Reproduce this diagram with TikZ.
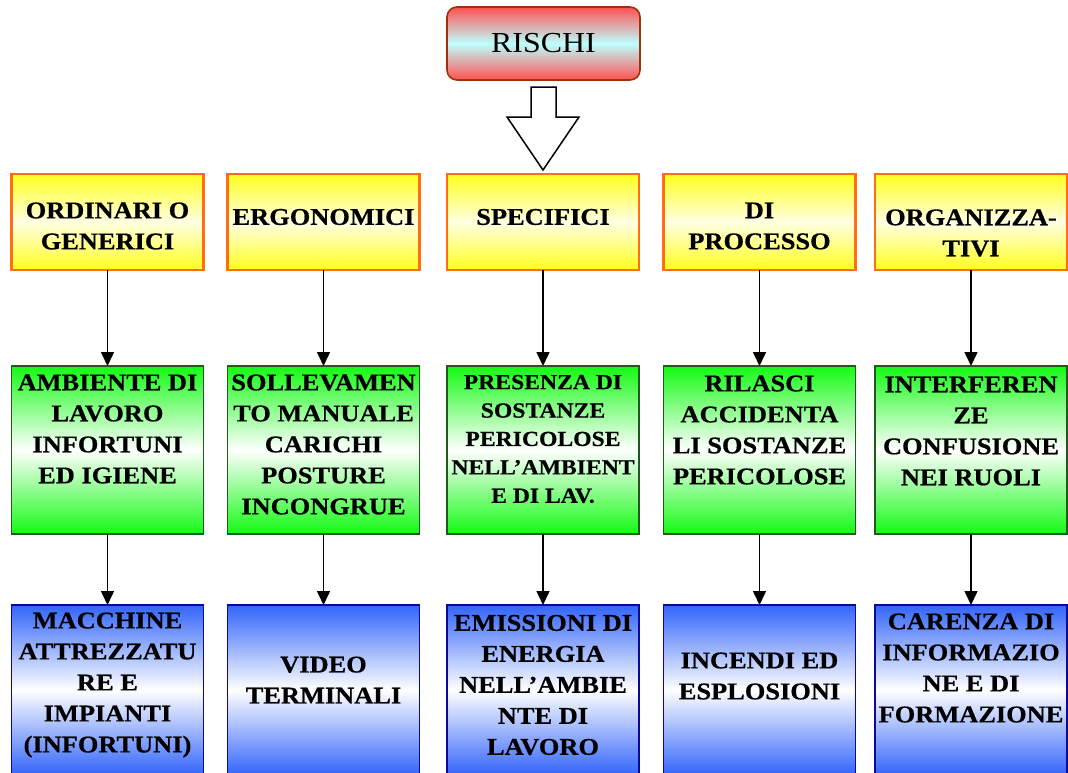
\documentclass[tikz,border=0pt]{standalone}
\usepackage{fontspec}
\setmainfont{Liberation Serif}[FakeStretch=1.1, BoldFeatures={FakeBold=0.6}]
\usetikzlibrary{arrows.meta}

\definecolor{boxyellow}{RGB}{255,255,30}
\definecolor{paleyellow}{RGB}{255,255,228}
\definecolor{edgeorange}{RGB}{255,110,20}
\definecolor{boxgreen}{RGB}{20,250,20}
\definecolor{edgegreen}{RGB}{30,90,30}
\definecolor{boxblue}{RGB}{50,100,250}
\definecolor{edgeblue}{RGB}{10,10,150}
\definecolor{boxred}{RGB}{255,80,80}
\definecolor{palecyan}{RGB}{190,255,255}
\definecolor{edgered}{RGB}{160,50,10}

\tikzset{
  box/.style={rectangle, inner sep=0pt, outer sep=0pt, minimum width=192pt},
  levelone/.style={box, minimum height=96pt, draw=edgeorange, line width=2.2pt,
    top color=boxyellow, bottom color=boxyellow, middle color=paleyellow},
  leveltwo/.style={box, minimum height=168pt, draw=edgegreen, line width=1.8pt,
    top color=boxgreen, bottom color=boxgreen, middle color=white},
  levelthree/.style={box, minimum height=170pt, draw=edgeblue, line width=1.8pt,
    top color=boxblue, bottom color=boxblue, middle color=white},
  label/.style={inner sep=0pt, align=center, font=\bfseries\fontsize{24}{31}\selectfont},
  smalllabel/.style={label, font=\bfseries\fontsize{21.5}{28.4}\selectfont},
  link/.style={line width=1.5pt, -{Triangle[length=14pt,width=13pt]}},
}

\begin{document}
\begin{tikzpicture}[x=1pt,y=-1pt]
\useasboundingbox (0,0) rectangle (1068,772);
\clip (0,0) rectangle (1068,772);

% top box
\node[rectangle, rounded corners=10pt, draw=edgered, line width=1.6pt,
  minimum width=193pt, minimum height=73pt, inner sep=0pt,
  top color=boxred, bottom color=boxred, middle color=palecyan,
  font=\fontsize{29}{34}\selectfont] (rischi) at (543.5,43.5) {RISCHI};

% hollow arrow below it
\draw[line width=1.5pt, fill=white, line join=miter]
  (531,87) -- (556,87) -- (556,117) -- (579,117) -- (543,170)
  -- (507,117) -- (531,117) -- cycle;

% first level: categories
\node[levelone] (a1) at (107.5,222) {};
\node[levelone] (a2) at (323.5,222) {};
\node[levelone] (a3) at (543,222) {};
\node[levelone] (a4) at (759.5,222) {};
\node[levelone] (a5) at (971,222) {};

\node[label] (ta1) at (107.5,226) {ORDINARI O\\GENERICI};
\node[label] (ta2) at (323.5,217) {ERGONOMICI};
\node[label] (ta3) at (543,217) {SPECIFICI};
\node[label] (ta4) at (759.5,226) {DI\\PROCESSO};
\node[label] (ta5) at (971,233) {ORGANIZZA-\\TIVI};

% second level
\node[leveltwo] (b1) at (107.5,450) {};
\node[leveltwo] (b2) at (323.5,450) {};
\node[leveltwo] (b3) at (543,450) {};
\node[leveltwo] (b4) at (759.5,450) {};
\node[leveltwo] (b5) at (971,450) {};

\node[label] (tb1) at (107.5,429) {AMBIENTE DI\\LAVORO\\INFORTUNI\\ED IGIENE};
\node[label] (tb2) at (323.5,444.5) {SOLLEVAMEN\\TO MANUALE\\CARICHI\\POSTURE\\INCONGRUE};
\node[smalllabel] (tb3) at (543,439) {PRESENZA DI\\SOSTANZE\\PERICOLOSE\\NELL’AMBIENT\\E DI LAV.};
\node[label] (tb4) at (759.5,430) {RILASCI\\ACCIDENTA\\LI SOSTANZE\\PERICOLOSE};
\node[label] (tb5) at (971,431) {INTERFEREN\\ZE\\CONFUSIONE\\NEI RUOLI};

% third level
\node[levelthree] (c1) at (107.5,690) {};
\node[levelthree] (c2) at (323.5,690) {};
\node[levelthree] (c3) at (543,690) {};
\node[levelthree] (c4) at (759.5,690) {};
\node[levelthree] (c5) at (971,690) {};

\node[label] (tc1) at (107.5,685) {MACCHINE\\ATTREZZATU\\RE E\\IMPIANTI\\(INFORTUNI)};
\node[label] (tc2) at (323.5,680) {VIDEO\\TERMINALI};
\node[label] (tc3) at (543,685) {EMISSIONI DI\\ENERGIA\\NELL’AMBIE\\NTE DI\\LAVORO};
\node[label] (tc4) at (759.5,676) {INCENDI ED\\ESPLOSIONI};
\node[label] (tc5) at (971,668) {CARENZA DI\\INFORMAZIO\\NE E DI\\FORMAZIONE};

% connectors
\foreach \i in {1,...,5} {
  \draw[link] (a\i.south) -- (b\i.north);
  \draw[link] (b\i.south) -- (c\i.north);
}
\end{tikzpicture}
\end{document}
